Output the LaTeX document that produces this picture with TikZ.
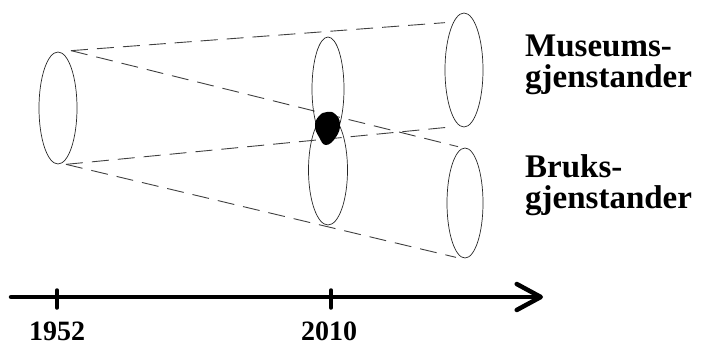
\documentclass[tikz,border=0pt]{standalone}
\usepackage{fontspec}
\setmainfont{Liberation Serif}
\usetikzlibrary{shapes.geometric, arrows.meta}

\begin{document}
\begin{tikzpicture}[x=1pt, y=-1pt,
    cone/.style={draw=black!85, ellipse, line width=0.7pt, inner sep=0pt},
    ray/.style={draw=black!75, dash pattern=on 17pt off 9pt, line width=0.9pt},
    axis/.style={line width=4.5pt, line cap=round},
    lbl/.style={font=\fontsize{33}{30}\selectfont\bfseries, align=left, anchor=base west, inner sep=0pt},
    year/.style={font=\fontsize{28}{28}\selectfont\bfseries, anchor=base, inner sep=0pt}]
    \useasboundingbox (0,0) rectangle (702,345);
    \node[cone, minimum width=38pt, minimum height=112pt] (L) at (58,108) {};
    \node[cone, minimum width=32pt, minimum height=104pt] (MU) at (328,89) {};
    \node[cone, minimum width=39pt, minimum height=110pt] (ML) at (328,170) {};
    \node[cone, minimum width=38pt, minimum height=114pt] (RU) at (464,70) {};
    \node[cone, minimum width=36pt, minimum height=110pt] (RL) at (465,203) {};
    \coordinate (Lt) at ([xshift=13pt, yshift=1pt]L.north);
    \coordinate (Lb) at ([xshift=8pt]L.south);
    \coordinate (RUt) at ([xshift=-19pt, yshift=-10pt]RU.north);
    \coordinate (RUb) at ([xshift=-17pt]RU.south);
    \coordinate (RLt) at ([xshift=-7pt, yshift=1pt]RL.north);
    \coordinate (RLb) at ([xshift=-9pt, yshift=1pt]RL.south);
    \draw[ray] (Lt) -- (RUt); \draw[ray] (Lt) -- (RLt);
    \draw[ray] (Lb) -- (RUb); \draw[ray] (Lb) -- (RLb);
    % the overlap of the two groups
    \fill plot[smooth cycle, tension=0.8] coordinates {(327,112) (335,114) (340,124) (336,137) (326,145) (319,137) (315,126) (319,116)};
    \node[lbl] (mus) at (525,88) {Museums-\\[1pt]gjenstander};
    \node[lbl] (bruk) at (525,208) {Bruks-\\[1pt]gjenstander};
    % time axis
    \coordinate (T0) at (11,297);
    \coordinate (T1) at (543,297);
    \draw[axis, -{Straight Barb[length=24pt, width=26pt, round]}] (T0) -- (T1);
    \coordinate (k1) at (57,297); \coordinate (k2) at (331,297);
    \draw[axis, line width=3.5pt] ([yshift=7pt]k1) -- ([yshift=-11pt]k1);
    \draw[axis, line width=3.5pt] ([yshift=7pt]k2) -- ([yshift=-11pt]k2);
    \node[year] (y1) at (57,340) {1952};
    \node[year] (y2) at (329,340) {2010};
\end{tikzpicture}
\end{document}
